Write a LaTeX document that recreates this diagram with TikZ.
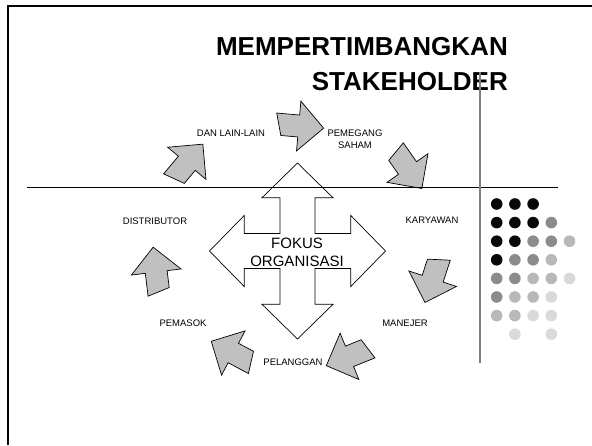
\documentclass[tikz,border=0pt]{standalone}
\usepackage{fontspec}
\setmainfont{Liberation Sans}
\usepackage{tikz}
\usetikzlibrary{calc}

\definecolor{abuabu}{RGB}{192,192,192}
\definecolor{garisabu}{RGB}{128,128,128}
\definecolor{titikhitam}{RGB}{8,8,8}
\definecolor{titikabu}{RGB}{140,140,140}
\definecolor{titikmuda}{RGB}{184,184,184}
\definecolor{titikpucat}{RGB}{218,218,218}

\tikzset{
  panahabu/.style={draw=black, fill=abuabu, line width=0.7pt, line join=miter},
  panahputih/.style={draw=black, fill=white, line width=0.7pt},
  judul/.style={font=\fontsize{26}{30}\selectfont\bfseries, inner sep=0pt, anchor=base east},
  pihak/.style={font=\fontsize{9.5}{12}\selectfont, align=center, inner sep=0pt},
  fokus/.style={font=\fontsize{15}{18}\selectfont, align=center, inner sep=0pt}
}

% gray block arrow: #1,#2 = middle of head base, #3 = direction
\newcommand{\gambarpanah}[3]{%
  \draw[panahabu, shift={(#1,#2)}, rotate=#3]
    (-23,-11) -- (0,-11) -- (0,-25) -- (25,0) -- (0,25) -- (0,11) -- (-17,11) -- cycle;
}

\begin{document}
\begin{tikzpicture}[x=1pt, y=-1pt]
  \useasboundingbox (0,0) rectangle (592,445);

  % frame of the slide
  \draw[line width=2pt] (8.3,445) -- (8.3,6) -- (592,6);

  % title
  \node[judul] (judul1) at (508,55) {MEMPERTIMBANGKAN};
  \node[judul] (judul2) at (508,90) {STAKEHOLDER};

  % centre arrow
  \begin{scope}[shift={(297.5,251)}]
    \draw[panahputih] (0,-88) -- (35.5,-53.3) -- (17.5,-53.3) -- (17.5,-17.5)
      -- (53.3,-17.5) -- (53.3,-35.5) -- (88,0) -- (53.3,35.5) -- (53.3,17.5)
      -- (17.5,17.5) -- (17.5,53.3) -- (35.5,53.3) -- (0,88) -- (-35.5,53.3)
      -- (-17.5,53.3) -- (-17.5,17.5) -- (-53.3,17.5) -- (-53.3,35.5) -- (-88,0)
      -- (-53.3,-35.5) -- (-53.3,-17.5) -- (-17.5,-17.5) -- (-17.5,-53.3)
      -- (-35.5,-53.3) -- cycle;
  \end{scope}
  \node[fokus] (fokus) at (297,252) {FOKUS\\ORGANISASI};

  % the ring of gray arrows
  \gambarpanah{186.8}{163.3}{50}
  \gambarpanah{298.7}{126}{-5}
  \gambarpanah{407.5}{168}{-55}
  \gambarpanah{432.7}{278.7}{-108}
  \gambarpanah{349.5}{356.3}{-158}
  \gambarpanah{233.3}{353}{152}
  \gambarpanah{156.2}{272}{97}

  % stakeholders
  \node[pihak] (danlain) at (231,133) {DAN LAIN-LAIN};
  \node[pihak] (pemegang) at (355,139) {PEMEGANG\\SAHAM};
  \node[pihak] (karyawan) at (432,220) {KARYAWAN};
  \node[pihak] (manejer) at (405,323) {MANEJER};
  \node[pihak] (pelanggan) at (293,362) {PELANGGAN};
  \node[pihak] (pemasok) at (183,323) {PEMASOK};
  \node[pihak] (distributor) at (155,221) {DISTRIBUTOR};

  % rules
  \draw[line width=0.8pt] (27,187) -- (558,187);
  \draw[garisabu, line width=2pt] (480,72) -- (480,363);

  % dots
  \foreach \k/\b/\w in {1/1/titikhitam, 2/1/titikhitam, 3/1/titikhitam,
      1/2/titikhitam, 2/2/titikhitam, 3/2/titikhitam, 4/2/titikabu,
      1/3/titikhitam, 2/3/titikhitam, 3/3/titikabu, 4/3/titikabu, 5/3/titikmuda,
      1/4/titikhitam, 2/4/titikabu, 3/4/titikabu, 4/4/titikmuda,
      1/5/titikabu, 2/5/titikabu, 3/5/titikmuda, 4/5/titikmuda, 5/5/titikpucat,
      1/6/titikabu, 2/6/titikmuda, 3/6/titikmuda, 4/6/titikpucat,
      1/7/titikmuda, 2/7/titikmuda, 3/7/titikpucat, 4/7/titikpucat,
      2/8/titikpucat, 4/8/titikpucat}
    \fill[\w] ({496.7+18.2*(\k-1)},{204+18.6*(\b-1)}) circle[radius=5.8pt];
\end{tikzpicture}
\end{document}
